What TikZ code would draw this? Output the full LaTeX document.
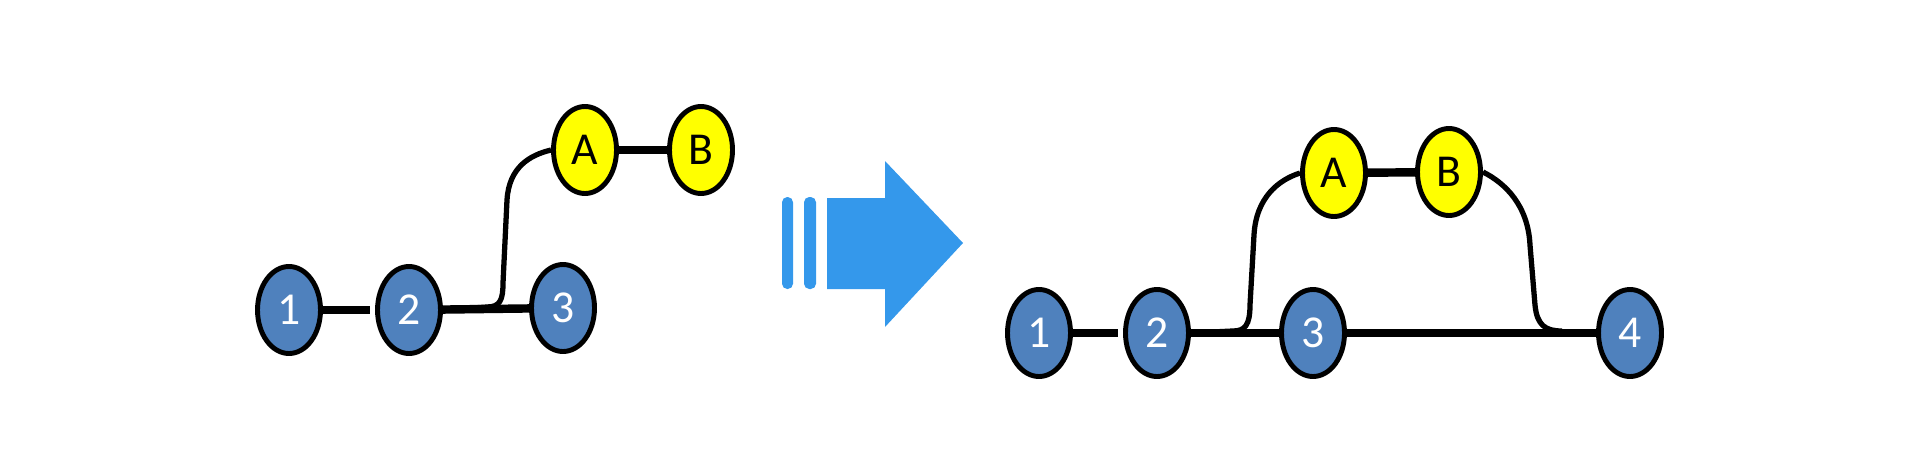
\documentclass[tikz,border=0pt]{standalone}
\usepackage{fontspec}
\setmainfont{Carlito}
\usetikzlibrary{shapes.geometric}
\definecolor{commitblue}{HTML}{4F81BD}
\definecolor{commityellow}{HTML}{FFFF00}
\definecolor{arrowblue}{HTML}{3498EB}
\tikzset{
  commit/.style={ellipse, draw=black, line width=2.8pt, inner sep=0pt,
    minimum width=63*0.02cm, minimum height=87*0.02cm,
    fill=commitblue, text=white, font=\fontsize{26}{30}\selectfont},
  feature/.style={commit, fill=commityellow, text=black},
  trunk/.style={line width=4.8pt, black},
  branch/.style={line width=3pt, black}
}
\begin{document}
\begin{tikzpicture}[x=0.02cm, y=-0.02cm]
  \useasboundingbox (0,0) rectangle (1920,460);
  % before
  \node[commit] (l1) at (289,310) {1};
  \node[commit] (l2) at (409,310) {2};
  \node[commit] (l3) at (563,308) {3};
  \node[feature] (lA) at (585,150) {A};
  \node[feature] (lB) at (701,150) {B};
  \draw[trunk, shorten >=0.1cm] (l1) -- (l2);
  \draw[trunk] (l2) -- (l3);
  \draw[trunk] (lA) -- (lB);
  \draw[branch] (l2.east) -- (487,307) .. controls (500,307) and (503,300) .. (503,283)
    -- (507,200) .. controls (509,167) and (530,155) .. (lA.west);
  % arrow
  \fill[arrowblue, rounded corners=3pt] (782,197) rectangle (793,289);
  \fill[arrowblue, rounded corners=3pt] (804,197) rectangle (816,289);
  \fill[arrowblue] (827,198) -- (885,198) -- (885,161) -- (963,243) -- (885,327) -- (885,289) -- (827,289) -- cycle;
  % after
  \node[commit] (r1) at (1039,333) {1};
  \node[commit] (r2) at (1157,333) {2};
  \node[commit] (r3) at (1313,333) {3};
  \node[commit] (r4) at (1630,333) {4};
  \node[feature] (rA) at (1334,173) {A};
  \node[feature] (rB) at (1449,172) {B};
  \draw[trunk, shorten >=0.1cm] (r1) -- (r2);
  \draw[trunk] (r2) -- (r3);
  \draw[trunk] (r3) -- (r4);
  \draw[trunk] (rA) -- (rB);
  \draw[branch] (r2.east) -- (1233,331) .. controls (1245,331) and (1250,325) .. (1250,305)
    -- (1254,235) .. controls (1256,198) and (1278,180) .. (rA.west);
  \draw[branch] (rB.east) .. controls (1505,183) and (1528,205) .. (1530,245)
    -- (1535,305) .. controls (1537,325) and (1545,331) .. (1562,331);
\end{tikzpicture}
\end{document}
